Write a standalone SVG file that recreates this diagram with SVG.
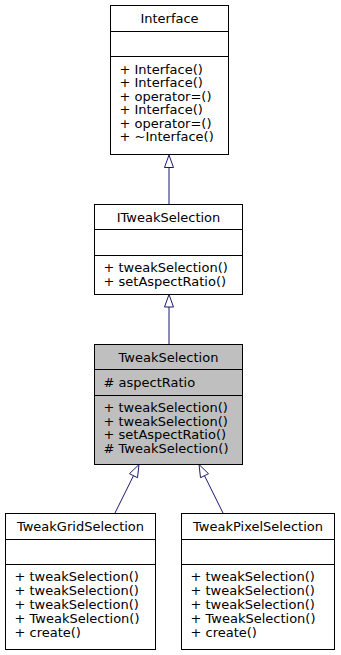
<svg xmlns="http://www.w3.org/2000/svg" width="341" height="655" viewBox="0 0 341 655">
  <style>
    .box { fill: #ffffff; stroke: #000000; stroke-width: 1; }
    .box.focus { fill: #bfbfbf; }
    .sep { stroke: #000000; stroke-width: 1; }
    text { font-family: "DejaVu Sans", "Liberation Sans", sans-serif; font-size: 13px; fill: #000000; }
    .title { text-anchor: middle; }
    .edge { stroke: #191970; stroke-width: 1; fill: none; }
    .head { fill: #ffffff; stroke: #191970; stroke-width: 1; }
  </style>

  <!-- inheritance edges: hollow triangle at the base class -->
  <g id="edges">
    <line class="edge" x1="169" y1="167.5" x2="169" y2="204.5"/>
    <polygon class="head" points="169,155 164.5,167.5 173.5,167.5"/>

    <line class="edge" x1="169" y1="307" x2="169" y2="344"/>
    <polygon class="head" points="169,294.5 164.5,307 173.5,307"/>

    <line class="edge" x1="133.5" y1="475.7" x2="115" y2="513"/>
    <polygon class="head" points="139,464.5 137.5,477.7 129.5,473.7"/>

    <line class="edge" x1="204.5" y1="475.7" x2="223" y2="513"/>
    <polygon class="head" points="199,464.5 208.5,473.7 200.5,477.7"/>
  </g>

  <g id="node-Interface">
    <rect class="box" x="110.5" y="5.5" width="118" height="149"/>
    <line class="sep" x1="110.5" y1="31.5" x2="228.5" y2="31.5"/>
    <line class="sep" x1="110.5" y1="56.5" x2="228.5" y2="56.5"/>
    <text class="title" x="169.5" y="22.5">Interface</text>
    <text x="119.5" y="73.5">+ Interface()</text>
    <text x="119.5" y="87">+ Interface()</text>
    <text x="119.5" y="100.5">+ operator=()</text>
    <text x="119.5" y="114">+ Interface()</text>
    <text x="119.5" y="127.5">+ operator=()</text>
    <text x="119.5" y="141">+ ~Interface()</text>
  </g>

  <g id="node-ITweakSelection">
    <rect class="box" x="94.5" y="204.5" width="148" height="90"/>
    <line class="sep" x1="94.5" y1="229.5" x2="242.5" y2="229.5"/>
    <line class="sep" x1="94.5" y1="255.5" x2="242.5" y2="255.5"/>
    <text class="title" x="168.5" y="221.5">ITweakSelection</text>
    <text x="103.5" y="271.5">+ tweakSelection()</text>
    <text x="103.5" y="285.5">+ setAspectRatio()</text>
  </g>

  <g id="node-TweakSelection">
    <rect class="box focus" x="94.5" y="344.5" width="148" height="120"/>
    <line class="sep" x1="94.5" y1="369.5" x2="242.5" y2="369.5"/>
    <line class="sep" x1="94.5" y1="395.5" x2="242.5" y2="395.5"/>
    <text class="title" x="168.5" y="361.5">TweakSelection</text>
    <text x="103.5" y="386.5"># aspectRatio</text>
    <text x="103.5" y="412">+ tweakSelection()</text>
    <text x="103.5" y="425.5">+ tweakSelection()</text>
    <text x="103.5" y="439">+ setAspectRatio()</text>
    <text x="103.5" y="452.5"># TweakSelection()</text>
  </g>

  <g id="node-TweakGridSelection">
    <rect class="box" x="5.5" y="513.5" width="150" height="136"/>
    <line class="sep" x1="5.5" y1="539.5" x2="155.5" y2="539.5"/>
    <line class="sep" x1="5.5" y1="564.5" x2="155.5" y2="564.5"/>
    <text class="title" x="80.5" y="530.5">TweakGridSelection</text>
    <text x="14.5" y="581">+ tweakSelection()</text>
    <text x="14.5" y="595">+ tweakSelection()</text>
    <text x="14.5" y="609">+ tweakSelection()</text>
    <text x="14.5" y="623">+ TweakSelection()</text>
    <text x="14.5" y="637">+ create()</text>
  </g>

  <g id="node-TweakPixelSelection">
    <rect class="box" x="181.5" y="513.5" width="153" height="136"/>
    <line class="sep" x1="181.5" y1="539.5" x2="334.5" y2="539.5"/>
    <line class="sep" x1="181.5" y1="564.5" x2="334.5" y2="564.5"/>
    <text class="title" x="258" y="530.5">TweakPixelSelection</text>
    <text x="190.5" y="581">+ tweakSelection()</text>
    <text x="190.5" y="595">+ tweakSelection()</text>
    <text x="190.5" y="609">+ tweakSelection()</text>
    <text x="190.5" y="623">+ TweakSelection()</text>
    <text x="190.5" y="637">+ create()</text>
  </g>
</svg>
